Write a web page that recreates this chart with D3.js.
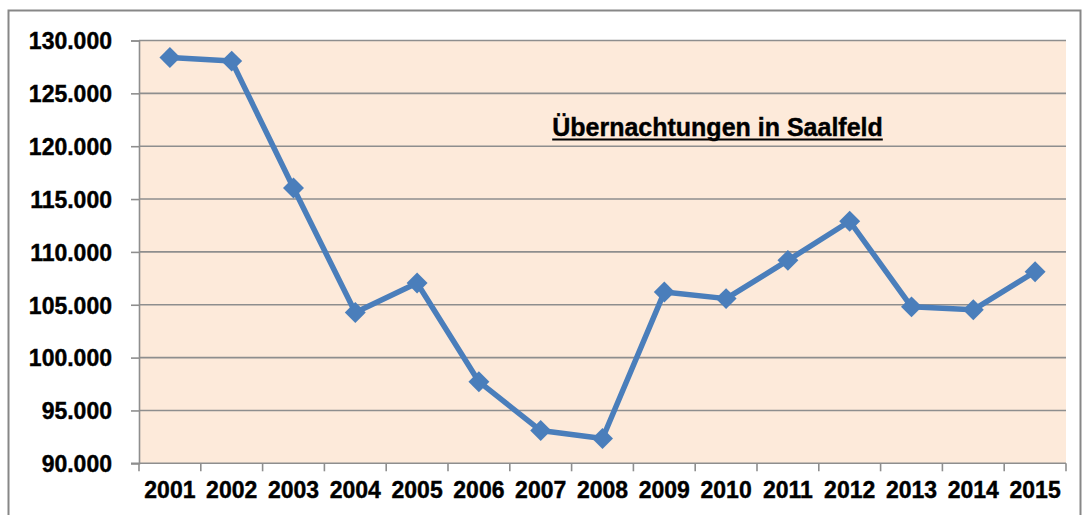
<!DOCTYPE html>
<html>
<head>
<meta charset="utf-8">
<script src="https://cdn.jsdelivr.net/npm/d3@7"></script>
<style>
  html, body { margin: 0; padding: 0; background: #ffffff; }
  svg { display: block; }
</style>
</head>
<body>
<svg id="chart" width="1082" height="515"></svg>
<script>
const years = ["2001","2002","2003","2004","2005","2006","2007","2008","2009","2010","2011","2012","2013","2014","2015"];
const overnightStays = [128400, 128050, 116040, 104270, 107050, 97720, 93100, 92350, 106200, 105580, 109200, 112900, 104800, 104520, 108120];
const yTicks = [90000, 95000, 100000, 105000, 110000, 115000, 120000, 125000, 130000];
const chartTitle = "Übernachtungen in Saalfeld";

const svg = d3.select("#chart");
const plot = { left: 139, top: 40.5, right: 1066, bottom: 463.3 };
const font = "'Liberation Sans', Arial, sans-serif";

// outer chart border
svg.append("rect")
  .attr("x", 8.5).attr("y", 10.5)
  .attr("width", 1072).attr("height", 520)
  .attr("fill", "#ffffff")
  .attr("stroke", "#878787").attr("stroke-width", 2);

const x = d3.scaleBand().domain(years).range([plot.left, plot.right]).padding(0);
const y = d3.scaleLinear().domain([90000, 130000]).range([plot.bottom, plot.top]);

// plot background
svg.append("rect")
  .attr("x", plot.left).attr("y", plot.top)
  .attr("width", plot.right - plot.left).attr("height", plot.bottom - plot.top)
  .attr("fill", "#FDEADA");

// gridlines
svg.append("g")
  .selectAll("line")
  .data(yTicks.filter(t => t > 90000))
  .join("line")
  .attr("x1", plot.left).attr("x2", plot.right)
  .attr("y1", d => y(d)).attr("y2", d => y(d))
  .attr("stroke", "#8e8e8e").attr("stroke-width", 1.6);

// y axis
const yAxis = d3.axisLeft(y).tickValues(yTicks).tickSize(8).tickPadding(19)
  .tickFormat(d => d3.format(",")(d).replace(/,/g, "."));
const gy = svg.append("g").attr("transform", `translate(${plot.left},0)`).call(yAxis);
gy.select(".domain").attr("stroke", "#8e8e8e").attr("stroke-width", 1.6);
gy.selectAll(".tick line").attr("stroke", "#8e8e8e").attr("stroke-width", 1.6);
gy.selectAll(".tick text")
  .attr("font-family", font).attr("font-weight", "bold")
  .attr("font-size", 23).attr("fill", "#000")
  .attr("stroke", "#000").attr("stroke-width", 0.4)
  .attr("dy", "0.36em");

// x axis
const xAxis = d3.axisBottom(x).tickSize(0).tickPadding(26);
const gx = svg.append("g").attr("transform", `translate(0,${plot.bottom})`).call(xAxis);
gx.select(".domain").attr("stroke", "#8e8e8e").attr("stroke-width", 1.6)
  .attr("d", `M${plot.left - 8},0H${plot.right}`);
gx.selectAll(".tick text")
  .attr("font-family", font).attr("font-weight", "bold")
  .attr("font-size", 23).attr("fill", "#000")
  .attr("stroke", "#000").attr("stroke-width", 0.4)
  .attr("dy", "0.36em");
// category boundary ticks
gx.append("g").selectAll("line")
  .data(years.concat(["end"]))
  .join("line")
  .attr("x1", (d, i) => i < years.length ? x(d) : plot.right)
  .attr("x2", (d, i) => i < years.length ? x(d) : plot.right)
  .attr("y1", 0).attr("y2", 8)
  .attr("stroke", "#8e8e8e").attr("stroke-width", 1.6);

// line
const cx = d => x(d) + x.bandwidth() / 2;
const line = d3.line().x((d, i) => cx(years[i])).y(d => y(d));
svg.append("path")
  .datum(overnightStays)
  .attr("d", line)
  .attr("fill", "none")
  .attr("stroke", "#4A7EBB").attr("stroke-width", 5.5)
  .attr("stroke-linejoin", "round");

// markers
const sym = d3.symbol().type(d3.symbolDiamond2).size(280);
svg.append("g").selectAll("path")
  .data(overnightStays)
  .join("path")
  .attr("transform", (d, i) => `translate(${cx(years[i])},${y(d)})`)
  .attr("d", sym)
  .attr("fill", "#4A7EBB");

// title
const title = svg.append("text")
  .attr("x", 717.5).attr("y", 135.5)
  .attr("text-anchor", "middle")
  .attr("font-family", font).attr("font-weight", "bold")
  .attr("font-size", 25).attr("fill", "#000")
  .attr("stroke", "#000").attr("stroke-width", 0.4)
  .text(chartTitle);
const bb = title.node().getBBox();
svg.append("line")
  .attr("x1", bb.x).attr("x2", bb.x + bb.width)
  .attr("y1", 139.5).attr("y2", 139.5)
  .attr("stroke", "#000").attr("stroke-width", 2);
</script>
</body>
</html>
